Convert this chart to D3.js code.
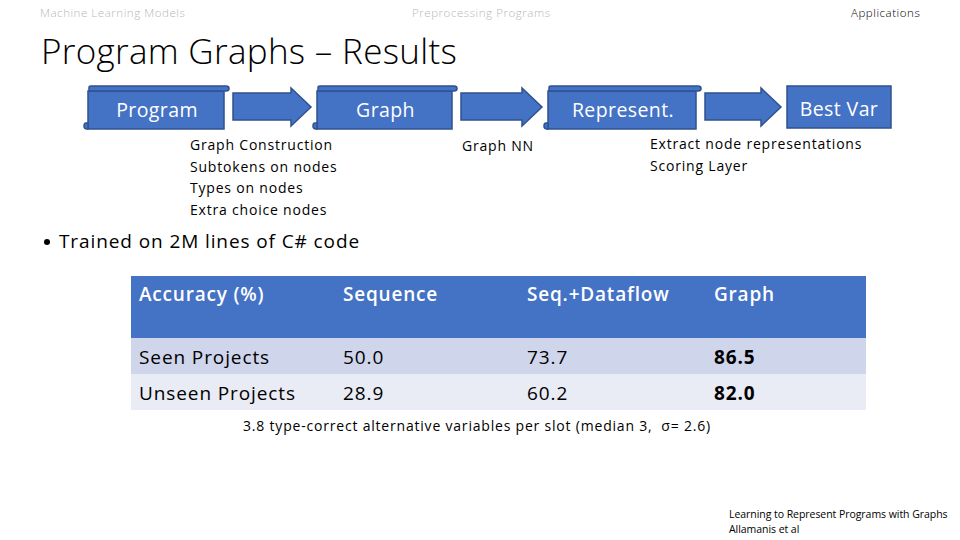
<!DOCTYPE html>
<html>
<head>
<meta charset="utf-8">
<script src="https://cdn.jsdelivr.net/npm/d3@7"></script>
<style>
  html, body { margin: 0; padding: 0; background: #fff; }
  svg { display: block; font-family: "Open Sans", Lato, sans-serif; }
  text { white-space: pre; }
</style>
</head>
<body>
<svg id="slide" width="960" height="540"></svg>
<script>
// Navigation and headings
const navItems = ['Machine Learning Models', 'Preprocessing Programs', 'Applications']
const title = 'Program Graphs – Results'

// Pipeline steps and the notes below them
const steps = ['Program', 'Graph', 'Represent.', 'Best Var']
const stepNotes = [
  ['Graph Construction', 'Subtokens on nodes', 'Types on nodes', 'Extra choice nodes'],
  ['Graph NN'],
  ['Extract node representations', 'Scoring Layer']
]

const bullet = 'Trained on 2M lines of C# code'

// Results table
const columns = ['Accuracy (%)', 'Sequence', 'Seq.+Dataflow', 'Graph']
const rowNames = ['Seen Projects', 'Unseen Projects']
const sequenceAcc = [50.0, 28.9]
const dataflowAcc = [73.7, 60.2]
const graphAcc = [86.5, 82.0]

const caption = '3.8 type-correct alternative variables per slot (median 3,  σ= 2.6)'
const reference = ['Learning to Represent Programs with Graphs', 'Allamanis et al']

const svg = d3.select('#slide')
const blue = '#4472C4'
const edge = '#2F528F'

// Top navigation
const navX = d3.scaleOrdinal().domain(navItems).range([40, 412, 851])
svg.selectAll('text.nav')
  .data(navItems)
  .enter().append('text')
  .attr('class', 'nav')
  .attr('x', d => navX(d))
  .attr('y', 17)
  .attr('font-size', 11.5)
  .attr('font-weight', 300)
  .attr('letter-spacing', 0.55)
  .attr('fill', (d, i) => i === 2 ? '#000' : '#b8b8b8')
  .text(d => d)

svg.append('text')
  .attr('x', 41)
  .attr('y', 64)
  .attr('font-size', 35)
  .attr('font-weight', 300)
  .attr('letter-spacing', 0.3)
  .text(title)

// Pipeline boxes: left edge and width of each step
const boxX = d3.scaleOrdinal().domain(steps).range([88, 317, 548, 787])
const boxW = d3.scaleOrdinal().domain(steps).range([138, 137, 150, 104])
const boxTop = 86, boxH = 43

const box = svg.selectAll('g.step')
  .data(steps)
  .enter().append('g')
  .attr('class', 'step')
  .attr('transform', d => `translate(${boxX(d)},${boxTop})`)

// scroll look for the first three steps
box.filter((d, i) => i < 3).append('path')
  .attr('d', d => {
    const w = boxW(d)
    return `M0,5 L${w - 2},5 L${w - 2},${boxH} L0,${boxH} Z`
  })
  .attr('fill', blue).attr('stroke', edge).attr('stroke-width', 1.5)
box.filter((d, i) => i < 3).append('path')
  .attr('d', d => {
    const w = boxW(d)
    return `M1,5 L1,1.5 Q1,0 3,0 L${w},0 Q${w + 3},0 ${w + 3},2.5 Q${w + 3},5 ${w},5 Z`
  })
  .attr('fill', blue).attr('stroke', edge).attr('stroke-width', 1.5)
box.filter((d, i) => i < 3).append('path')
  .attr('d', `M0,${boxH - 6} L-2,${boxH - 6} Q-4,${boxH - 6} -4,${boxH - 3} Q-4,${boxH} -1,${boxH} L0,${boxH} Z`)
  .attr('fill', blue).attr('stroke', edge).attr('stroke-width', 1.5)
box.filter((d, i) => i === 3).append('rect')
  .attr('width', d => boxW(d)).attr('height', boxH - 1)
  .attr('fill', blue).attr('stroke', edge).attr('stroke-width', 1.5)

box.append('text')
  .attr('x', d => boxW(d) / 2)
  .attr('y', (d, i) => i === 3 ? 30 : 31)
  .attr('text-anchor', 'middle')
  .attr('font-size', 19.5)
  .attr('letter-spacing', 0.4)
  .attr('fill', '#fff')
  .text(d => d)

// Arrows between the steps
const arrows = d3.range(steps.length - 1).map(i => ({
  from: boxX(steps[i]) + boxW(steps[i]) + 7,
  to: boxX(steps[i + 1]) - 6
}))
svg.selectAll('path.arrow')
  .data(arrows)
  .enter().append('path')
  .attr('class', 'arrow')
  .attr('d', a => {
    const head = a.to - 20
    return `M${a.from},93 L${head},93 L${head},88 L${a.to},107 L${head},126 L${head},120 L${a.from},120 Z`
  })
  .attr('fill', blue).attr('stroke', edge).attr('stroke-width', 1.5)

// Notes under the pipeline
const noteX = [190, 462, 650]
const noteY = [150, 151, 149]
stepNotes.forEach((lines, j) => {
  svg.selectAll(null)
    .data(lines)
    .enter().append('text')
    .attr('x', noteX[j])
    .attr('y', (d, i) => noteY[j] + i * (j === 2 ? 22 : 21.7))
    .attr('font-size', 14)
    .attr('letter-spacing', 0.8)
    .text(d => d)
})

// Bullet line
svg.append('circle').attr('cx', 47).attr('cy', 242).attr('r', 3)
svg.append('text')
  .attr('x', 59).attr('y', 248)
  .attr('font-size', 19)
  .attr('letter-spacing', 0.9)
  .text(bullet)

// Table
const tableLeft = 131, tableRight = 866
const colX = d3.scaleOrdinal().domain(columns).range([131, 335, 519, 706])
const headTop = 276, headBottom = 338
const rowY = d3.scaleBand().domain(rowNames).range([headBottom, 410])

svg.append('rect')
  .attr('x', tableLeft).attr('y', headTop)
  .attr('width', tableRight - tableLeft).attr('height', headBottom - headTop)
  .attr('fill', blue)

svg.selectAll('text.head')
  .data(columns)
  .enter().append('text')
  .attr('class', 'head')
  .attr('x', d => colX(d) + 8)
  .attr('y', 301)
  .attr('font-size', 19)
  .attr('font-weight', 600)
  .attr('letter-spacing', 0.8)
  .attr('fill', '#fff')
  .text(d => d)

const tableRows = rowNames.map((name, i) => [name, sequenceAcc[i], dataflowAcc[i], graphAcc[i]])

const rowG = svg.selectAll('g.row')
  .data(tableRows)
  .enter().append('g')
  .attr('class', 'row')
  .attr('transform', d => `translate(0,${rowY(d[0])})`)

rowG.append('rect')
  .attr('x', tableLeft)
  .attr('width', tableRight - tableLeft)
  .attr('height', rowY.bandwidth())
  .attr('fill', (d, i) => i === 0 ? '#CFD5EA' : '#E9EBF5')

rowG.selectAll('text')
  .data(d => d)
  .enter().append('text')
  .attr('x', (d, i) => colX(columns[i]) + 8)
  .attr('y', 26)
  .attr('font-size', 19)
  .attr('letter-spacing', 0.9)
  .attr('font-weight', (d, i) => i === 3 ? 700 : 400)
  .text((d, i) => i === 0 ? d : d3.format('.1f')(d))

svg.append('text')
  .attr('x', 243).attr('y', 431)
  .attr('font-size', 14)
  .attr('letter-spacing', 0.8)
  .text(caption)

svg.selectAll('text.ref')
  .data(reference)
  .enter().append('text')
  .attr('class', 'ref')
  .attr('x', 729)
  .attr('y', (d, i) => 518 + i * 15)
  .attr('font-size', 10.5)
  .attr('letter-spacing', -0.05)
  .text(d => d)
</script>
</body>
</html>
